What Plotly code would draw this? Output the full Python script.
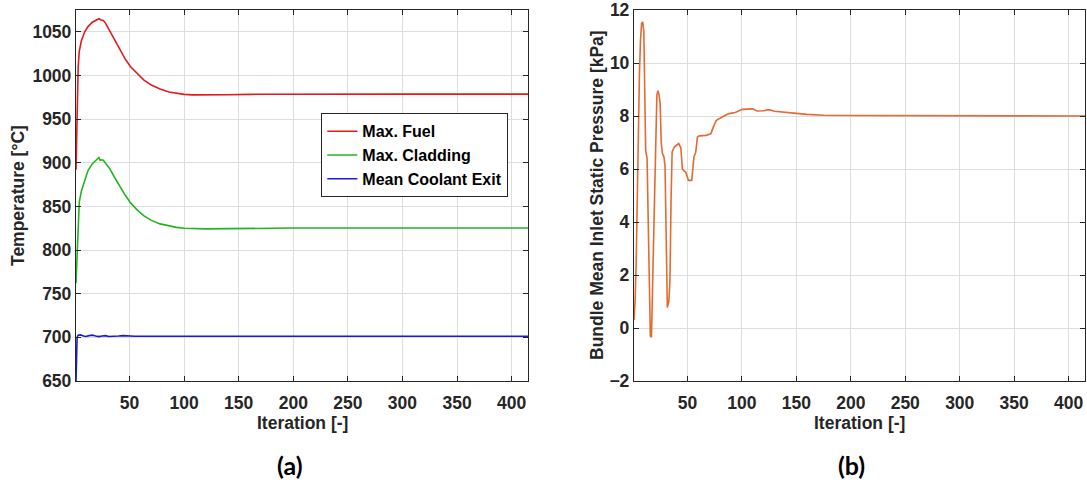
import plotly.graph_objects as go

# ---- (a) temperatures vs iteration ----
fuel_iter = [1, 2, 3, 4, 6, 9, 12, 16, 20, 22, 24, 26, 28, 32, 36, 41, 46, 51, 57, 63,
             70, 78, 86, 93, 100, 108, 120, 140, 160, 200, 300, 415]
fuel_temp = [892, 960, 1010, 1028, 1040, 1050, 1056, 1061, 1064, 1065, 1063.5, 1063, 1060, 1051,
             1041, 1030, 1019, 1010, 1002, 995, 989, 984.5, 981, 979.5, 978.4, 977.8, 977.6,
             978.0, 978.4, 978.6, 978.6, 978.6]

clad_iter = [1, 2, 3, 4, 6, 9, 12, 16, 20, 22, 23, 24, 26, 28, 32, 36, 41, 46, 51, 57, 63,
             70, 78, 86, 93, 100, 108, 120, 140, 160, 200, 300, 415]
clad_temp = [762, 800, 835, 855, 868, 881, 891, 899, 904, 906, 903, 903.5, 903, 900, 893, 884,
             873, 863, 854, 846, 839.5, 834, 830, 827.5, 826, 825, 824.5, 824.3, 824.5, 825,
             825.2, 825.2, 825.2]

cool_iter = [1, 2, 3, 5, 8, 10, 13, 16, 19, 22, 25, 28, 31, 35, 40, 44, 48, 55, 70, 100, 200,
             300, 415]
cool_temp = [650, 700, 702.5, 702.8, 701.5, 701.0, 702.0, 702.5, 701.5, 700.8, 701.5, 702.0,
             701.0, 701.0, 701.6, 702.0, 701.5, 701.2, 701.3, 701.2, 701.2, 701.2, 701.2]

# ---- (b) bundle mean inlet static pressure ----
pres_iter = [1, 2, 3, 4, 5, 6, 7, 8, 9, 10, 11, 11.7, 13, 14, 15, 16, 17, 18, 19, 20, 21, 22,
             23, 24, 25, 26, 27, 28.5, 29.5, 30.5, 31.6, 33, 34, 35, 36, 38, 42, 44, 45.4, 46.5,
             48.5, 51, 54, 56, 57.7, 59.2, 61, 67, 71.5, 74, 76.6, 82, 88, 94, 100.5, 110, 114,
             120, 125, 130, 140, 150, 160, 175, 200, 250, 300, 415]
pres_kpa = [0.3, 1.0, 2.5, 5.5, 8.0, 9.6, 10.9, 11.5, 11.55, 11.2, 8.6, 6.7, 6.4, 4.0, 1.0,
            -0.3, -0.35, 1.5, 3.5, 4.8, 6.6, 8.8, 8.95, 8.8, 8.47, 7.0, 6.6, 6.45, 6.1, 3.0, 0.77,
            1.0, 1.8, 4.8, 6.64, 6.83, 6.96, 6.8, 6.0, 5.95, 5.88, 5.57, 5.57, 6.45, 6.64, 7.21,
            7.25, 7.27, 7.33, 7.6, 7.84, 7.96, 8.09, 8.13, 8.25, 8.27, 8.19, 8.2, 8.24, 8.18,
            8.13, 8.1, 8.06, 8.03, 8.02, 8.01, 8.0, 8.0]

x_ticks = [50, 100, 150, 200, 250, 300, 350, 400]
x_range = [1, 415]
temp_range = [650, 1075]
pres_range = [-2, 12]

TXT = "#262626"
FONT = "Liberation Sans"
tick_font = dict(family=FONT, size=17.5, color=TXT, weight="bold")

fig = go.Figure()
fig.add_trace(go.Scatter(x=fuel_iter, y=fuel_temp, mode="lines", name="Max. Fuel",
                         line=dict(color="#e31a1c", width=1.6),
                         xaxis="x", yaxis="y"))
fig.add_trace(go.Scatter(x=clad_iter, y=clad_temp, mode="lines", name="Max. Cladding",
                         line=dict(color="#22b422", width=1.6),
                         xaxis="x", yaxis="y"))
fig.add_trace(go.Scatter(x=cool_iter, y=cool_temp, mode="lines", name="Mean Coolant Exit",
                         line=dict(color="#1a1ad6", width=1.6),
                         xaxis="x", yaxis="y"))
fig.add_trace(go.Scatter(x=pres_iter, y=pres_kpa, mode="lines", name="Pressure",
                         showlegend=False, line=dict(color="#e36a32", width=1.6),
                         xaxis="x2", yaxis="y2"))

W, H = 1087, 487
y_dom = [(H - 381) / H, (H - 10) / H]

axis_common = dict(
    showline=True, linecolor=TXT, linewidth=1.3, mirror="ticks",
    ticks="inside", ticklen=5, tickcolor=TXT, tickwidth=1,
    showgrid=True, gridcolor="#dedede", gridwidth=1, zeroline=False,
    tickfont=tick_font, automargin=False,
)

fig.update_layout(
    width=W, height=H,
    margin=dict(l=0, r=0, t=0, b=0, autoexpand=False),
    paper_bgcolor="white", plot_bgcolor="white",
    xaxis=dict(domain=[76 / W, 528 / W], range=x_range, tickvals=x_ticks,
               anchor="y", ticklabelstandoff=6, **axis_common),
    yaxis=dict(domain=y_dom, range=temp_range, dtick=50, tick0=650,
               anchor="x", **axis_common),
    xaxis2=dict(domain=[634 / W, 1085 / W], range=x_range, tickvals=x_ticks,
                anchor="y2", ticklabelstandoff=6, **axis_common),
    yaxis2=dict(domain=y_dom, range=pres_range, dtick=2, tick0=-2,
                anchor="x2", **axis_common),
    legend=dict(x=321 / W, y=(H - 113) / H, xanchor="left", yanchor="top",
                bgcolor="white", bordercolor=TXT, borderwidth=1.3,
                font=dict(family=FONT, size=16, color="black", weight="bold"),
                itemwidth=30),
    showlegend=True,
)

label_font = dict(family=FONT, size=17.5, color=TXT, weight="bold")
annots = [
    dict(x=302 / W, y=(H - 423) / H, text="Iteration [-]", font=label_font),
    dict(x=859 / W, y=(H - 423) / H, text="Iteration [-]", font=label_font),
    dict(x=18 / W, y=(H - 196) / H, text="Temperature [°C]", textangle=-90, font=label_font),
    dict(x=597 / W, y=(H - 195) / H, text="Bundle Mean Inlet Static Pressure [kPa]",
         textangle=-90, font=label_font),
    dict(x=290 / W, y=(H - 465) / H, text="(a)",
         font=dict(family="Lato", size=25, color="black", weight="bold")),
    dict(x=851 / W, y=(H - 465) / H, text="(b)",
         font=dict(family="Lato", size=25, color="black", weight="bold")),
]
for a in annots:
    fig.add_annotation(xref="paper", yref="paper", showarrow=False,
                       xanchor="center", yanchor="middle", **a)

fig.write_html("out.html")
